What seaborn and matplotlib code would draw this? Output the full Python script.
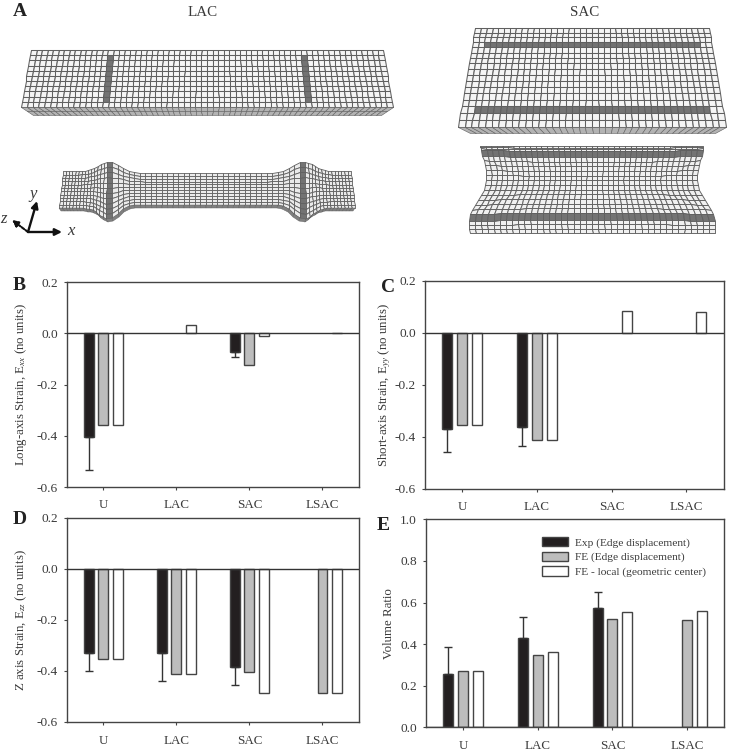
import numpy as np
import pandas as pd
import seaborn as sns
import matplotlib.pyplot as plt

W, H = 731, 753

groups = ['U', 'LAC', 'SAC', 'LSAC']
series_names = ['Exp (Edge displacement)', 'FE (Edge displacement)', 'FE - local (geometric center)']
series_colors = ['#231f20', '#bdbdbd', '#ffffff']

nan = float('nan')

# Panel B, long-axis strain
b_exp = [-0.405, nan, -0.072, nan]
b_exp_end = [-0.532, nan, -0.092, nan]
b_fe = [-0.356, nan, -0.124, nan]
b_local = [-0.356, 0.032, -0.011, 0.003]

# Panel C, short-axis strain
c_exp = [-0.372, -0.364, nan, nan]
c_exp_end = [-0.460, -0.435, nan, nan]
c_fe = [-0.356, -0.412, nan, nan]
c_local = [-0.356, -0.412, 0.082, 0.080]

# Panel D, z axis strain
d_exp = [-0.329, -0.330, -0.386, nan]
d_exp_end = [-0.402, -0.439, -0.457, nan]
d_fe = [-0.355, -0.411, -0.406, -0.487]
d_local = [-0.355, -0.411, -0.486, -0.487]

# Panel E, volume ratio
e_exp = [0.255, 0.430, 0.574, nan]
e_exp_end = [0.388, 0.532, 0.651, nan]
e_fe = [0.269, 0.349, 0.522, 0.516]
e_local = [0.269, 0.361, 0.553, 0.558]

strain_ticks = [-0.6, -0.4, -0.2, 0.0, 0.2]
volume_ticks = [0.0, 0.2, 0.4, 0.6, 0.8, 1.0]

INK = '#3a3a3a'

sns.set_theme(style='ticks', rc={
    'axes.edgecolor': '#444444',
    'axes.linewidth': 1.0,
    'xtick.color': '#444444',
    'ytick.color': '#444444',
    'text.color': INK,
    'axes.labelcolor': INK,
    'xtick.labelcolor': INK,
    'ytick.labelcolor': INK,
    'mathtext.fontset': 'custom',
    'mathtext.rm': 'Liberation Serif',
    'mathtext.it': 'Liberation Serif:italic',
})
plt.rcParams['font.family'] = ['Liberation Serif', 'DejaVu Serif']


def px_rect(left, top, right, bottom):
    return [left / W, 1 - bottom / H, (right - left) / W, (bottom - top) / H]


def bar_panel(fig, rect, exp, exp_end, fe, local, ylim, yticks, ylabel, label_x, legend=False):
    """Grouped bars with one-sided error bars on the Exp series."""
    ax = fig.add_axes(px_rect(*rect))
    data = pd.DataFrame({
        'group': groups * 3,
        'series': [s for s in series_names for _ in groups],
        'value': list(exp) + list(fe) + list(local),
    })
    sns.barplot(data=data, x='group', y='value', hue='series', order=groups,
                hue_order=series_names, palette=series_colors, saturation=1,
                width=0.6, gap=0.33, errorbar=None, edgecolor='#444444',
                linewidth=1.0, legend=legend, ax=ax)

    # error bars hang off the black bars only
    for bar in ax.containers[0]:
        center = bar.get_x() + bar.get_width() / 2
        i = int(round(center))
        if np.isnan(exp[i]):
            continue
        size = abs(exp_end[i] - exp[i])
        yerr = [[size], [0]] if exp[i] < 0 else [[0], [size]]
        ax.errorbar(center, exp[i], yerr=yerr, color='#333333', elinewidth=1.0,
                    capsize=3, capthick=1.0, zorder=1)

    ax.axhline(0, color='#333333', lw=1.0, zorder=5)
    ax.set_xlim(-0.5, 3.5)
    ax.set_ylim(*ylim)
    ax.set_yticks(yticks)
    ax.set_yticklabels([f'{t:.1f}' for t in yticks])
    ax.set_xlabel('')
    ax.set_ylabel(ylabel, fontsize=9.3)
    ax.yaxis.set_label_coords(label_x, 0.5)
    ax.tick_params(axis='x', length=2.5, width=0.8, pad=6.5, labelsize=9.4)
    ax.tick_params(axis='y', length=2.5, width=0.8, pad=4, labelsize=9.6)
    return ax


def draw_mesh(ax, X, Y, shade=None, lw=0.75, edge='#606060', base=0.96):
    C = np.full((X.shape[0] - 1, X.shape[1] - 1), base)
    if shade is not None:
        for row, col in shade:
            C[row, col] = 0.45
    ax.pcolormesh(X, Y, C, cmap='gray', vmin=0, vmax=1, edgecolors=edge,
                  linewidth=lw, shading='flat', antialiased=True)


def quad_mesh(tl, tr, bl, br, ncols, nrows, warp=None):
    u = np.linspace(0, 1, ncols + 1)
    v = np.linspace(0, 1, nrows + 1)
    if warp is not None:
        v = warp(v)
    U, V = np.meshgrid(u, v)
    X = (1 - V) * ((1 - U) * tl[0] + U * tr[0]) + V * ((1 - U) * bl[0] + U * br[0])
    Y = (1 - V) * ((1 - U) * tl[1] + U * tr[1]) + V * ((1 - U) * bl[1] + U * br[1])
    return X, Y


def smooth(values):
    out = values.copy()
    for _ in range(2):
        out[1:-1] = 0.25 * out[:-2] + 0.5 * out[1:-1] + 0.25 * out[2:]
    return out


def specimen_panel(ax):
    # LAC, undeformed
    cols, rows = 64, 11
    X, Y = quad_mesh((31, 50), (383, 50), (21, 107), (393, 107), cols, rows)
    shade = [(r, c) for r in range(1, rows - 1) for c in (14, 49)]
    draw_mesh(ax, X, Y, shade)
    X, Y = quad_mesh((21, 107), (393, 107), (33, 115), (381, 115), cols, 2)
    draw_mesh(ax, X, Y, base=0.7, lw=0.4)

    # LAC, deformed
    u = np.linspace(0, 1, cols + 1)
    v = np.linspace(0, 1, rows + 1)
    U, V = np.meshgrid(u, v)
    knots_u = [0, 14 / 64, 15 / 64, 49 / 64, 50 / 64, 1]
    top_x = np.interp(u, knots_u, [63, 107, 112, 300, 305, 351])
    bot_x = np.interp(u, knots_u, [59, 106, 112, 300, 306, 355])
    X = (1 - V) * top_x + V * bot_x

    def bumps(x, w):
        return np.exp(-((x - 109) / w) ** 2) + np.exp(-((x - 303) / w) ** 2)

    end = np.clip((np.abs(X - 207) - 90) / 30, 0, 1)
    top = 173 - 1.5 * end - 11 * bumps(X, 15)
    bot = 204.5 + 3.5 * end + 14 * bumps(X, 13)
    Y = top + V * (bot - top)
    shade = [(r, c) for r in range(rows) for c in (14, 49)]
    draw_mesh(ax, X, Y, shade, lw=0.6, base=0.92)
    X2 = np.vstack([X[-1], X[-1] * 0.985 + 207 * 0.015])
    Y2 = np.vstack([Y[-1], Y[-1] + 3])
    draw_mesh(ax, X2, Y2, base=0.5, lw=0.3)

    # SAC, undeformed
    cols, rows = 40, 17
    warp = lambda t: 0.78 * t + 0.22 * t ** 2
    X, Y = quad_mesh((475, 28), (709, 28), (458, 127), (726, 127), cols, rows, warp)
    shade = [(r, c) for r in (3, 14) for c in range(2, cols - 2)]
    draw_mesh(ax, X, Y, shade)
    X, Y = quad_mesh((458, 127), (726, 127), (470, 133), (715, 133), cols, 1)
    draw_mesh(ax, X, Y, base=0.7, lw=0.4)

    # SAC, deformed
    rows = 20
    u = np.linspace(0, 1, cols + 1)
    v = np.linspace(0, 1, rows + 1)
    y_rows = np.interp(v, [0, 0.15, 0.2, 0.8, 0.85, 1], [146, 151, 157, 213, 220, 233])
    left_y = [146, 153, 173, 190, 207, 220, 233]
    left = smooth(np.interp(y_rows, left_y, [480, 481, 487, 485, 472, 468, 470]))
    right = smooth(np.interp(y_rows, left_y, [703, 703, 697, 698, 711, 716, 715]))
    U, V = np.meshgrid(u, v)
    X = left[:, None] + U * (right - left)[:, None]
    Y = y_rows[:, None] + 4 * (2 * V - 1) * np.sin(np.pi * V) * (2 * U - 1) ** 4
    shade = [(r, c) for r in (3, 16) for c in range(cols)]
    draw_mesh(ax, X, Y, shade, lw=0.65, base=0.94)

    # coordinate triad
    origin = (28, 232)
    ends = {'x': (62, 232), 'y': (37, 201)}
    for name, tip in ends.items():
        ax.annotate('', xy=tip, xytext=origin, zorder=6,
                    arrowprops=dict(arrowstyle='-|>', color='#111111', lw=1.7,
                                    mutation_scale=10, shrinkA=0, shrinkB=0))
    ax.annotate('', xy=(12, 220), xytext=origin, zorder=6,
                arrowprops=dict(arrowstyle='-|>', color='#111111', lw=1.5, ls=(0, (1.5, 0.8)),
                                mutation_scale=9, shrinkA=0, shrinkB=0))
    ax.text(71, 231, 'x', style='italic', fontsize=12, ha='center', va='center')
    ax.text(33, 194, 'y', style='italic', fontsize=12, ha='center', va='center')
    ax.text(3, 219, 'z', style='italic', fontsize=12, ha='center', va='center')


fig = plt.figure(figsize=(W / 100, H / 100), dpi=100)

overlay = fig.add_axes([0, 0, 1, 1])
overlay.set_xlim(0, W)
overlay.set_ylim(H, 0)
overlay.axis('off')
specimen_panel(overlay)

bar_panel(fig, (66.7, 282.3, 359, 487), b_exp, b_exp_end, b_fe, b_local, (-0.6, 0.2), strain_ticks,
          r'Long-axis Strain, E$_{\mathit{xx}}$ (no units)', -0.129)
bar_panel(fig, (425, 280.7, 723.7, 488.7), c_exp, c_exp_end, c_fe, c_local, (-0.6, 0.2), strain_ticks,
          r'Short-axis Strain, E$_{\mathit{yy}}$ (no units)', -0.106)
bar_panel(fig, (66.7, 517.7, 359, 722), d_exp, d_exp_end, d_fe, d_local, (-0.6, 0.2), strain_ticks,
          r'Z axis Strain, E$_{\mathit{zz}}$ (no units)', -0.129)
ax_e = bar_panel(fig, (426, 519.3, 724.3, 727.3), e_exp, e_exp_end, e_fe, e_local, (0, 1), volume_ticks,
                 'Volume Ratio', -0.104, legend=True)

handles, labels = ax_e.get_legend_handles_labels()
ax_e.legend(handles, labels, loc='upper left', bbox_to_anchor=(541.7 / W, 1 - 537 / H),
            bbox_transform=fig.transFigure, frameon=False, fontsize=8.2, borderpad=0,
            borderaxespad=0, handlelength=2.34, handleheight=0.85, labelspacing=0.35,
            handletextpad=0.6)

# panel letters and column titles
for letter, x, y in [('A', 20, 12), ('B', 19, 286), ('C', 388, 287), ('D', 20, 520), ('E', 383, 526)]:
    fig.text(x / W, 1 - y / H, letter, fontsize=14, fontweight='bold', color='#222222',
             ha='center', va='center')
fig.text(203 / W, 1 - 12 / H, 'LAC', fontsize=10.8, ha='center', va='center')
fig.text(585 / W, 1 - 12 / H, 'SAC', fontsize=10.8, ha='center', va='center')

fig.savefig('out.png', dpi=100)
plt.close(fig)
